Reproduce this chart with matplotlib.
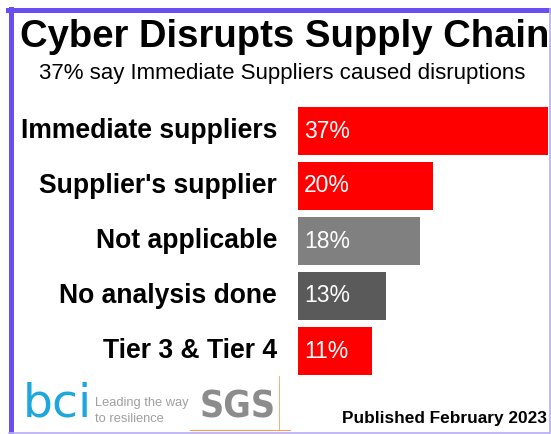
import matplotlib
matplotlib.use("Agg")
import matplotlib.pyplot as plt
from matplotlib.lines import Line2D

plt.rcParams['font.family'] = ['Liberation Sans', 'DejaVu Sans']

categories = ["Immediate suppliers", "Supplier's supplier", "Not applicable",
              "No analysis done", "Tier 3 & Tier 4"]
values = [37, 20, 18, 13, 11]
bar_colors = ["#ff0000", "#ff0000", "#808080", "#5a5a5a", "#ff0000"]

title = "Cyber Disrupts Supply Chain"
subtitle = "37% say Immediate Suppliers caused disruptions"
footer = "Published February 2023"

W, H = 551, 434
fig = plt.figure(figsize=(W / 100, H / 100), dpi=100)
fig.patch.set_facecolor("white")


def fx(x):
    return x / W


def fy(y):
    return 1 - y / H


# frame
purple = "#6b4ef2"
fig.add_artist(Line2D([fx(10.5), fx(10.5)], [fy(9), fy(433)], color=purple, lw=3.6))
fig.add_artist(Line2D([fx(8), fx(549)], [fy(10), fy(10)], color=purple, lw=3.6))
fig.add_artist(Line2D([fx(549.5), fx(549.5)], [fy(9), fy(433)], color="#b9acf7", lw=1.2))
fig.add_artist(Line2D([fx(9), fx(549)], [fy(433), fy(433)], color="#b9acf7", lw=1.2))

ax = fig.add_axes([fx(298), fy(378.5), fx(548) - fx(298), fy(103.5) - fy(378.5)])
ypos = list(range(len(categories)))
ax.barh(ypos, values, height=0.87, color=bar_colors)
ax.set_xlim(0, max(values))
ax.set_ylim(len(categories) - 0.5, -0.5)
ax.axis("off")

for y, v in zip(ypos, values):
    ax.annotate(f"{v}%", xy=(0, y), xytext=(6, 0), textcoords="offset pixels",
                color="white", fontsize=16.5, va="center", ha="left")
for y, c in zip(ypos, categories):
    ax.annotate(c, xy=(0, y), xycoords="data", xytext=(-21, 0), textcoords="offset pixels",
                ha="right", va="center", fontsize=19.1, fontweight="bold")

fig.text(fx(285), fy(37), title, ha="center", va="center", fontsize=27.5, fontweight="bold")
fig.text(fx(282), fy(73), subtitle, ha="center", va="center", fontsize=16)
fig.text(fx(547), fy(418), footer, ha="right", va="center", fontsize=12.4, fontweight="bold")

# logos
fig.text(fx(23), fy(404), "bci", ha="left", va="center", fontsize=34, color="#1ea7dc",
         family="DejaVu Sans")
fig.text(fx(95), fy(403), "Leading the way", ha="left", va="center", fontsize=9.3, color="#a0a0a0")
fig.text(fx(95), fy(419), "to resilience", ha="left", va="center", fontsize=9.3, color="#a0a0a0")
fig.text(fx(238), fy(408), "SGS", ha="center", va="center", fontsize=27, color="#8c8c8c",
         fontweight="bold", family="DejaVu Sans", fontstretch="condensed")
fig.add_artist(Line2D([fx(190), fx(290)], [fy(430), fy(430)], color="#f0a060", lw=0.8))
fig.add_artist(Line2D([fx(279), fx(279)], [fy(376), fy(430)], color="#f0a060", lw=0.6))

fig.savefig("out.png", dpi=100)
